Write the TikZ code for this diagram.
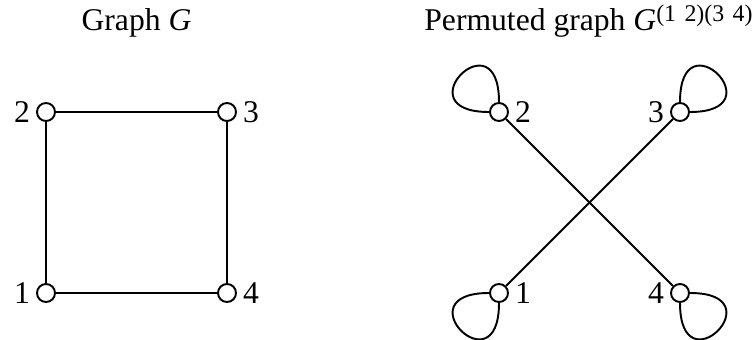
\documentclass[tikz,border=0pt]{standalone}
\usepackage{fontspec}
\setmainfont{Liberation Serif}
\tikzset{% styles for vertices, edges and loops
    v/.style={circle,minimum size=0.36cm,inner sep=0pt,draw=black,fill=white,line width=1.1pt},
    e/.style={line width=1.1pt},
    lp/.style={line width=1.1pt,min distance=1.75cm}}

\begin{document}
\begin{tikzpicture}[font=\fontsize{18}{21.6}\selectfont]
    \useasboundingbox (0,0) rectangle (15.12,6.78);
    \node[anchor=base] (ta) at (2.73,6.16) {Graph \textit{G}};
    \node[anchor=base] (tb) at (11.77,6.16) {Permuted graph \textit{G}\raisebox{5.4pt}{\fontsize{13.6}{16}\selectfont(1\hspace{0.35em}2)(3\hspace{0.35em}4)}};

    \node[v,label=left:1] (a1) at (0.92,0.92) {};
    \node[v,label=left:2] (a2) at (0.92,4.54) {};
    \node[v,label=right:3] (a3) at (4.54,4.54) {};
    \node[v,label=right:4] (a4) at (4.54,0.92) {};

    \node[v,label=right:1] (b1) at (9.98,0.92) {};
    \node[v,label=right:2] (b2) at (9.98,4.54) {};
    \node[v,label=left:3] (b3) at (13.6,4.54) {};
    \node[v,label=left:4] (b4) at (13.6,0.92) {};

    \draw[e] (a1) -- (a2);
    \draw[e] (a2) -- (a3);
    \draw[e] (a3) -- (a4);
    \draw[e] (a4) -- (a1);

    \draw[e] (b2) -- (b4);
    \draw[e] (b3) -- (b1);
    \draw[lp] (b1) to[out=180,in=270] (b1);
    \draw[lp] (b2) to[out=90,in=180] (b2);
    \draw[lp] (b3) to[out=90,in=0] (b3);
    \draw[lp] (b4) to[out=0,in=270] (b4);
\end{tikzpicture}
\end{document}
